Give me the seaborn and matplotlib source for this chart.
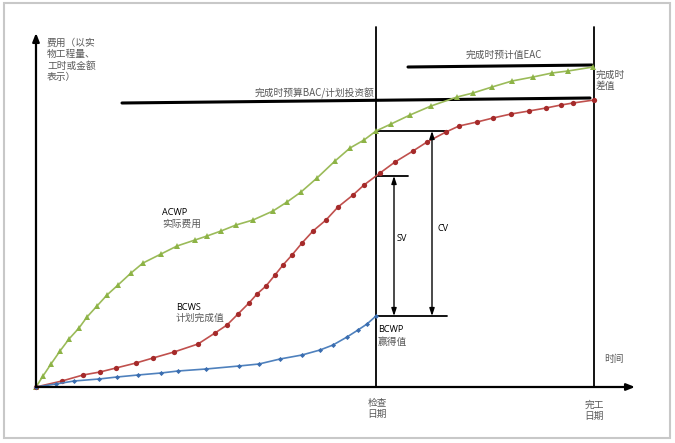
import numpy as np
import pandas as pd
import matplotlib
matplotlib.use("Agg")
import matplotlib.pyplot as plt
from matplotlib.patches import Rectangle
import seaborn as sns

# ---- data (time units, cost units) ----
acwp_t = [0, 7, 15, 24, 33, 43, 51, 61, 71, 82, 95, 107, 125, 141, 159, 171, 185, 200, 217, 237, 251,
          265, 281, 299, 314, 328, 340, 355, 374, 395, 421, 437, 456, 476, 497, 516, 532, 557]
acwp_v = [0, 11, 23, 36, 48, 59, 70, 81, 92, 102, 114, 124, 133, 141, 147, 151, 156, 162, 167, 176, 185,
          195, 209, 226, 239, 247, 256, 263, 272, 281, 290, 294, 300, 306, 310, 314, 316, 320]

bcws_t = [0, 26, 47, 64, 80, 100, 117, 138, 162, 179, 191, 202, 213, 221, 230, 239, 247, 256, 266, 277,
          290, 302, 317, 328, 344, 359, 377, 391, 410, 423, 441, 457, 475, 493, 510, 525, 537, 558]
bcws_v = [0, 6, 12, 15, 19, 24, 29, 35, 43, 54, 62, 73, 84, 93, 101, 112, 122, 132, 144, 156,
          167, 180, 192, 202, 214, 225, 236, 245, 255, 261, 265, 269, 273, 276, 279, 282, 284, 287]

bcwp_t = [0, 20, 38, 63, 81, 102, 125, 142, 170, 203, 223, 244, 266, 284, 297, 311, 322, 331, 340]
bcwp_v = [0, 3, 6, 8, 10, 12, 14, 16, 18, 21, 23, 28, 32, 37, 42, 50, 57, 63, 71]

check_t = 340        # 检查日期
finish_t = 558       # 完工日期
bac_t = [86, 554]
bac_v = [284, 289]
eac_t = [372, 556]
eac_v = [320, 322]

sns.set_style("white")
plt.rcParams['font.family'] = ['Noto Sans CJK SC', 'DejaVu Sans']

fig = plt.figure(figsize=(6.75, 4.43), dpi=100)
ax = fig.add_axes([0, 0, 1, 1])
ax.set_xlim(-36, 639)
ax.set_ylim(-56, 387)
ax.axis('off')

green = "#9BBB59"
red = "#C0504D"
blue = "#4F81BD"

df_a = pd.DataFrame({"t": acwp_t, "v": acwp_v})
df_s = pd.DataFrame({"t": bcws_t, "v": bcws_v})
df_p = pd.DataFrame({"t": bcwp_t, "v": bcwp_v})

sns.lineplot(data=df_a, x="t", y="v", ax=ax, color=green, lw=1.2, marker="^",
             markersize=4, markeredgewidth=0, markerfacecolor="#8DB346", sort=False, zorder=3)
sns.lineplot(data=df_s, x="t", y="v", ax=ax, color=red, lw=1.2, marker="o",
             markersize=3.8, markeredgewidth=0, markerfacecolor="#A52A2A", sort=False, zorder=3)
sns.lineplot(data=df_p, x="t", y="v", ax=ax, color=blue, lw=1.2, marker="D",
             markersize=2.6, markeredgewidth=0, markerfacecolor="#3A6DB0", sort=False, zorder=3)

k = "black"
# axes arrows
ax.annotate("", xy=(0, 354), xytext=(0, 0),
            arrowprops=dict(arrowstyle="-|>,head_length=0.5,head_width=0.2", color=k, lw=1.6,
                            shrinkA=0, shrinkB=0))
ax.annotate("", xy=(599, 0), xytext=(0, 0),
            arrowprops=dict(arrowstyle="-|>,head_length=0.5,head_width=0.2", color=k, lw=1.6,
                            shrinkA=0, shrinkB=0))

# vertical date lines
ax.plot([check_t, check_t], [0, 360], color=k, lw=1.3)
ax.plot([finish_t, finish_t], [0, 360], color=k, lw=1.3)

# BAC and EAC lines
ax.plot(bac_t, bac_v, color=k, lw=2.2)
ax.plot(eac_t, eac_v, color=k, lw=2.2)

# values at check date
a_chk = np.interp(check_t, acwp_t, acwp_v)
s_chk = np.interp(check_t, bcws_t, bcws_v)
p_chk = np.interp(check_t, bcwp_t, bcwp_v)
ax.plot([check_t, check_t + 72], [a_chk, a_chk], color=k, lw=1.3)
ax.plot([check_t, check_t + 32], [s_chk, s_chk], color=k, lw=1.3)
ax.plot([check_t, check_t + 71], [p_chk, p_chk], color=k, lw=1.3)

arr = dict(arrowstyle="<|-|>,head_length=0.45,head_width=0.15", color=k, lw=1.0,
           shrinkA=0, shrinkB=0)
ax.annotate("", xy=(358, s_chk), xytext=(358, p_chk), arrowprops=arr)
ax.annotate("", xy=(396, a_chk), xytext=(396, p_chk), arrowprops=arr)

gray = "#595959"
fs = 7
en = dict(fontsize=6.6, color="black", family=['Open Sans', 'DejaVu Sans'])
cn = dict(fontsize=fs, color=gray)
ls = 1.17

ax.text(11, 349, "费用（以实\n物工程量、\n工时或金额\n表示）", ha="left", va="top",
        linespacing=ls, **cn)
ax.text(219, 294, "完成时预算BAC/计划投资额", ha="left", va="center", **cn)
ax.text(430, 332, "完成时预计值EAC", ha="left", va="center", **cn)
ax.text(560, 317, "完成时\n差值", ha="left", va="top", linespacing=ls, **cn)

ax.text(126, 175, "ACWP", ha="left", va="center", **en)
ax.text(126, 163, "实际费用", ha="left", va="center", **cn)
ax.text(140, 80, "BCWS", ha="left", va="center", **en)
ax.text(140, 69, "计划完成值", ha="left", va="center", **cn)
ax.text(342, 57, "BCWP", ha="left", va="center", **en)
ax.text(342, 45, "赢得值", ha="left", va="center", **cn)
ax.text(361, 149, "SV", ha="left", va="center", **en)
ax.text(402, 159, "CV", ha="left", va="center", **en)
ax.text(568, 28, "时间", ha="left", va="center", **cn)
ax.text(check_t + 1, -11, "检查\n日期", ha="center", va="top", linespacing=ls, **cn)
ax.text(finish_t, -13, "完工\n日期", ha="center", va="top", linespacing=ls, **cn)

# light gray frame around the picture
fig.patches.append(Rectangle((4 / 675, 5 / 443), 666 / 675, 435 / 443, transform=fig.transFigure,
                             fill=False, edgecolor="#C8C8C8", lw=1.5))

fig.savefig("out.png", dpi=100)
